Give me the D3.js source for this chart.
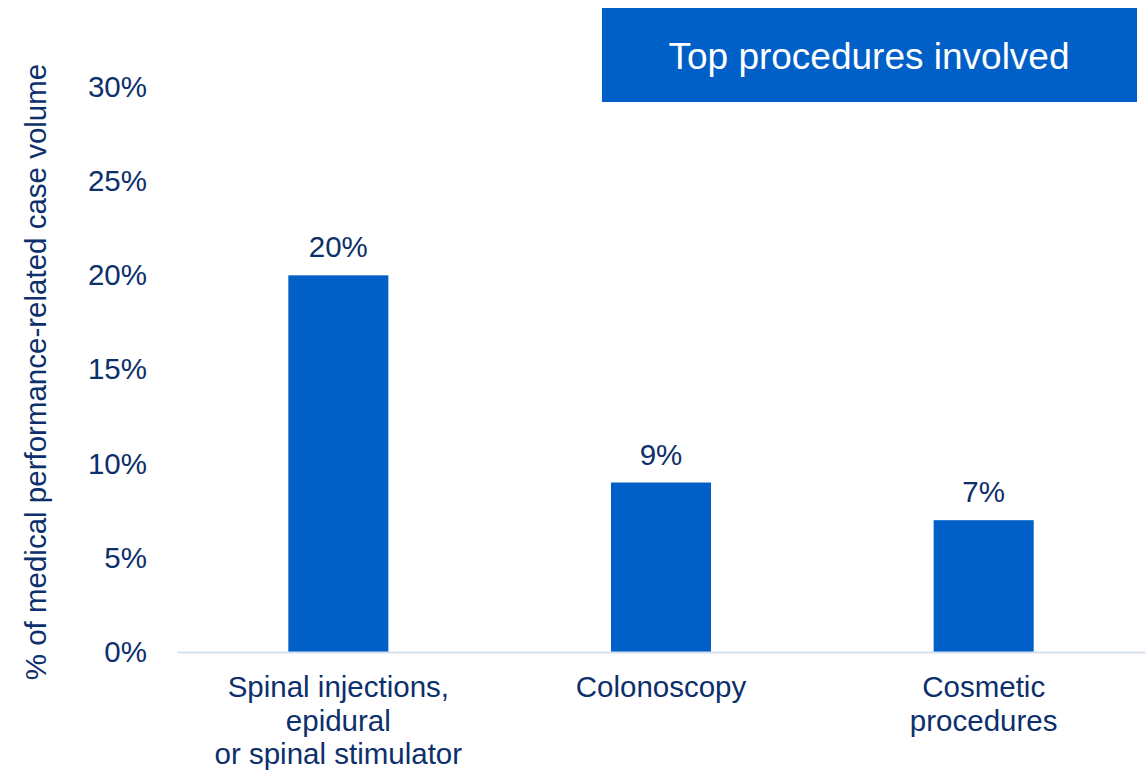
<!DOCTYPE html>
<html>
<head>
<meta charset="utf-8">
<script src="https://cdn.jsdelivr.net/npm/d3@7"></script>
<style>
  html, body { margin: 0; padding: 0; background: #ffffff; }
  svg { display: block; font-family: "Liberation Sans", Arial, sans-serif; }
</style>
</head>
<body>
<svg id="chart" width="1147" height="771"></svg>
<script>
// Share of medical performance-related case volume by procedure
const categories = [
  ["Spinal injections,", "epidural", "or spinal stimulator"],
  ["Colonoscopy"],
  ["Cosmetic", "procedures"]
];
const values = [20, 9, 7];
const valueLabels = ["20%", "9%", "7%"];
const yTicks = [0, 5, 10, 15, 20, 25, 30];
const yTickLabels = ["0%", "5%", "10%", "15%", "20%", "25%", "30%"];
const yTitle = "% of medical performance-related case volume";
const title = "Top procedures involved";

const navy = "#0d2f6b";
const barColor = "#0060c7";
const fontSize = 29.5;

const svg = d3.select("#chart");
const plot = { left: 177, right: 1145, top: 87, bottom: 652 };

const x = d3.scaleBand()
  .domain(d3.range(values.length))
  .range([plot.left, plot.right])
  .paddingInner(0.69)
  .paddingOuter(0.345);

const y = d3.scaleLinear()
  .domain([0, 30])
  .range([plot.bottom, plot.top]);

// Title box
svg.append("rect")
  .attr("x", 602).attr("y", 8)
  .attr("width", 535).attr("height", 94)
  .attr("fill", barColor);
svg.append("text")
  .attr("x", 869).attr("y", 69)
  .attr("text-anchor", "middle")
  .attr("fill", "#ffffff")
  .attr("font-size", 37)
  .text(title);

// Y axis tick labels (no axis line or tick marks)
const yAxis = d3.axisLeft(y)
  .tickValues(yTicks)
  .tickFormat((d, i) => yTickLabels[i])
  .tickSize(0)
  .tickPadding(0);
const gy = svg.append("g")
  .attr("transform", `translate(${147},0)`)
  .call(yAxis);
gy.select(".domain").remove();
gy.selectAll("text")
  .attr("fill", navy)
  .attr("font-size", fontSize)
  .attr("font-family", "Liberation Sans, Arial, sans-serif");

// Y axis title
svg.append("text")
  .attr("transform", `translate(46,${372}) rotate(-90)`)
  .attr("text-anchor", "middle")
  .attr("fill", navy)
  .attr("font-size", fontSize)
  .text(yTitle);

// Bars
svg.append("g")
  .selectAll("rect")
  .data(values)
  .join("rect")
  .attr("x", (d, i) => x(i))
  .attr("y", d => y(d))
  .attr("width", x.bandwidth())
  .attr("height", d => y(0) - y(d))
  .attr("fill", barColor);

// Value labels
svg.append("g")
  .selectAll("text")
  .data(values)
  .join("text")
  .attr("x", (d, i) => x(i) + x.bandwidth() / 2)
  .attr("y", d => y(d) - 18)
  .attr("text-anchor", "middle")
  .attr("fill", navy)
  .attr("font-size", fontSize)
  .text((d, i) => valueLabels[i]);

// Baseline
const xAxis = d3.axisBottom(x).tickSize(0).tickFormat(() => "");
const gx = svg.append("g")
  .attr("transform", `translate(0,${y(0)})`)
  .call(xAxis);
gx.select(".domain")
  .attr("stroke", "#d6e1ee")
  .attr("stroke-width", 2);

// Category labels
const catG = svg.append("g");
categories.forEach((lines, i) => {
  const t = catG.append("text")
    .attr("text-anchor", "middle")
    .attr("fill", navy)
    .attr("font-size", fontSize);
  lines.forEach((line, j) => {
    t.append("tspan")
      .attr("x", x(i) + x.bandwidth() / 2)
      .attr("y", y(0) + 45 + j * 33.5)
      .text(line);
  });
});
</script>
</body>
</html>
